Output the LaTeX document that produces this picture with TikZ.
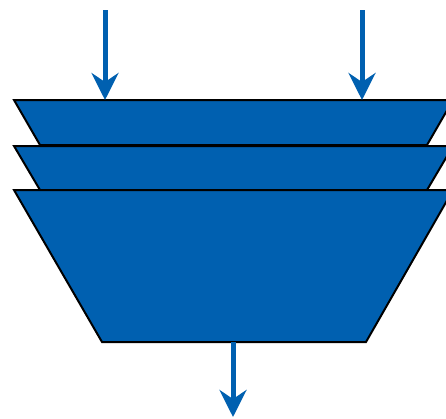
\documentclass[tikz,border=0pt]{standalone}
\usetikzlibrary{arrows.meta}
\definecolor{layerblue}{RGB}{0,96,176}
\tikzset{
  layer/.style={fill=layerblue, draw=black, line width=2pt, line join=miter},
  flow/.style={draw=layerblue, line width=5pt, -{Stealth[length=27pt, width=27pt, inset=9pt]}}
}
\begin{document}
\begin{tikzpicture}[x=1pt, y=-1pt]
  \useasboundingbox (0,0) rectangle (446,418);
  \clip (0,0) rectangle (446,418);
  % stacked layers, back to front
  \draw[layer] (14,100) -- (453,100) -- (427,145) -- (40,145) -- cycle;
  \draw[layer] (14,146) -- (453,146) -- (427,190) -- (40,190) -- cycle;
  \draw[layer] (14,190) -- (453,190) -- (366,342) -- (102,342) -- cycle;
  % connector end points
  \coordinate (inA) at (105,10);
  \coordinate (inAend) at (105,100);
  \coordinate (inB) at (362,10);
  \coordinate (inBend) at (362,100);
  \coordinate (out) at (233,342);
  \coordinate (outend) at (233,417);
  \draw[flow] (inA) -- (inAend);
  \draw[flow] (inB) -- (inBend);
  \draw[flow] (out) -- (outend);
\end{tikzpicture}
\end{document}
